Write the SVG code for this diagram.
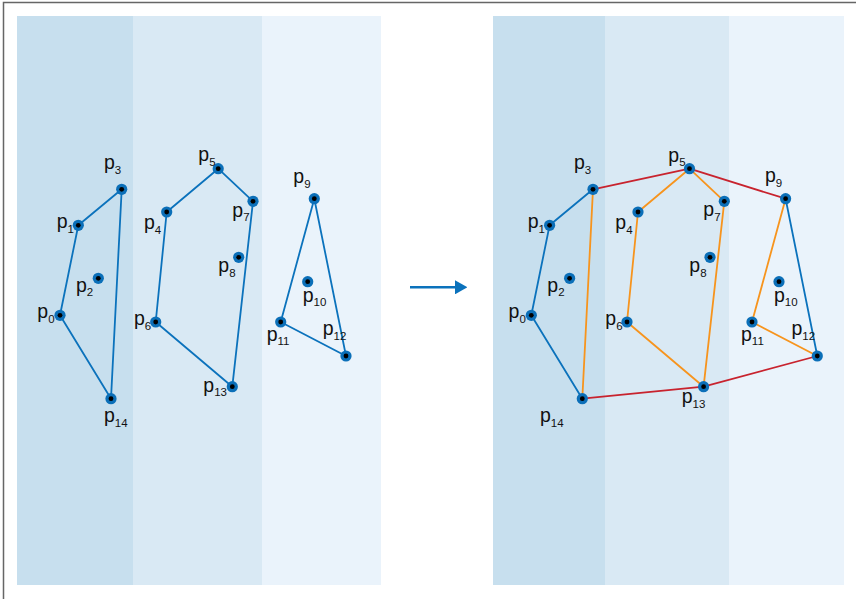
<svg xmlns="http://www.w3.org/2000/svg" width="856" height="599" viewBox="0 0 856 599">
<style>
.b1{fill:#c7dfee}.b2{fill:#d9e9f4}.b3{fill:#eaf3fb}
.e{fill:none;stroke-width:1.8;stroke-linecap:round;stroke-linejoin:round}
.blue{stroke:#0b72bc}.red{stroke:#c8232e}.org{stroke:#f7941d}
.pt{fill:#0b6fb8}.dot{fill:#000}
text{font-family:"Liberation Sans Narrow","Liberation Sans",Arial,sans-serif;font-size:19.5px;fill:#111}
.sub{font-size:11.5px}
</style>
<defs>
<g id="m"><circle r="5.6" class="pt"/><circle r="2.4" class="dot"/></g>
<marker id="ah" markerWidth="12" markerHeight="14" refX="0" refY="7" orient="auto" markerUnits="userSpaceOnUse"><path d="M0,0 L12.5,7 L0,14 Z" fill="#0b72bc"/></marker>
</defs>
<rect width="856" height="599" fill="#fff"/>
<path d="M3.5,600 V2.5 H857" fill="none" stroke="#666" stroke-width="1.5"/>
<g id="bands-left">
<rect class="b1" x="17" y="16" width="116" height="569"/>
<rect class="b2" x="133" y="16" width="129" height="569"/>
<rect class="b3" x="262" y="16" width="119" height="569"/>
</g>
<g id="bands-right">
<rect class="b1" x="493" y="16" width="112" height="569"/>
<rect class="b2" x="605" y="16" width="124" height="569"/>
<rect class="b3" x="729" y="16" width="115" height="569"/>
</g>
<g id="connectors">
<polygon class="e blue" points="60,315.3 78.3,225.3 121.7,189.3 111,398.7"/>
<polygon class="e blue" points="166.7,212 218.2,168.7 253,201.3 232.3,386.7 155.7,322"/>
<polygon class="e blue" points="314.3,198.7 346,356 280.7,322"/>
<polyline class="e blue" points="593,189.3 549.6,225.3 531.3,315.3 582.3,398.7"/>
<line class="e blue" x1="785.6" y1="198.7" x2="817.3" y2="356"/>
<line class="e org" x1="593" y1="189.3" x2="582.3" y2="398.7"/>
<polyline class="e org" points="689.5,168.7 638,212 627,322 703.6,386.7 724.3,201.3 689.5,168.7"/>
<polyline class="e org" points="785.6,198.7 752,322 817.3,356"/>
<polyline class="e red" points="593,189.3 689.5,168.7 785.6,198.7"/>
<polyline class="e red" points="582.3,398.7 703.6,386.7 817.3,356"/>
<line x1="410" y1="287.3" x2="455" y2="287.3" stroke="#0b72bc" stroke-width="2.6" marker-end="url(#ah)"/>
</g>
<g id="left-nodes">
<g id="L0"><use href="#m" x="60" y="315.3"/><text x="37.3" y="318.3">p<tspan class="sub" dy="4.6">0</tspan></text></g>
<g id="L1"><use href="#m" x="78.3" y="225.3"/><text x="56.7" y="228">p<tspan class="sub" dy="4.6">1</tspan></text></g>
<g id="L2"><use href="#m" x="98.3" y="278.3"/><text x="76" y="291.7">p<tspan class="sub" dy="4.6">2</tspan></text></g>
<g id="L3"><use href="#m" x="121.7" y="189.3"/><text x="104" y="169">p<tspan class="sub" dy="4.6">3</tspan></text></g>
<g id="L4"><use href="#m" x="166.7" y="212"/><text x="144" y="229.3">p<tspan class="sub" dy="4.6">4</tspan></text></g>
<g id="L5"><use href="#m" x="218.2" y="168.7"/><text x="198.3" y="161">p<tspan class="sub" dy="4.6">5</tspan></text></g>
<g id="L6"><use href="#m" x="155.7" y="322"/><text x="134" y="325">p<tspan class="sub" dy="4.6">6</tspan></text></g>
<g id="L7"><use href="#m" x="253" y="201.3"/><text x="232.3" y="216.7">p<tspan class="sub" dy="4.6">7</tspan></text></g>
<g id="L8"><use href="#m" x="238.7" y="257.3"/><text x="218.3" y="272">p<tspan class="sub" dy="4.6">8</tspan></text></g>
<g id="L9"><use href="#m" x="314.3" y="198.7"/><text x="293.3" y="183.3">p<tspan class="sub" dy="4.6">9</tspan></text></g>
<g id="L10"><use href="#m" x="307.7" y="281.7"/><text x="302.7" y="301.7">p<tspan class="sub" dy="4.6">10</tspan></text></g>
<g id="L11"><use href="#m" x="280.7" y="322"/><text x="266.7" y="340.5">p<tspan class="sub" dy="4.6">11</tspan></text></g>
<g id="L12"><use href="#m" x="346" y="356"/><text x="322.7" y="335">p<tspan class="sub" dy="4.6">12</tspan></text></g>
<g id="L13"><use href="#m" x="232.3" y="386.7"/><text x="203.3" y="391.5">p<tspan class="sub" dy="4.6">13</tspan></text></g>
<g id="L14"><use href="#m" x="111" y="398.7"/><text x="104" y="422">p<tspan class="sub" dy="4.6">14</tspan></text></g>
</g>
<g id="right-nodes">
<g id="R0"><use href="#m" x="531.3" y="315.3"/><text x="508.6" y="318.3">p<tspan class="sub" dy="4.6">0</tspan></text></g>
<g id="R1"><use href="#m" x="549.6" y="225.3"/><text x="527.7" y="228">p<tspan class="sub" dy="4.6">1</tspan></text></g>
<g id="R2"><use href="#m" x="569.6" y="278.3"/><text x="547.3" y="291.7">p<tspan class="sub" dy="4.6">2</tspan></text></g>
<g id="R3"><use href="#m" x="593" y="189.3"/><text x="574" y="169">p<tspan class="sub" dy="4.6">3</tspan></text></g>
<g id="R4"><use href="#m" x="638" y="212"/><text x="615.3" y="229.3">p<tspan class="sub" dy="4.6">4</tspan></text></g>
<g id="R5"><use href="#m" x="689.5" y="168.7"/><text x="668.3" y="161.5">p<tspan class="sub" dy="4.6">5</tspan></text></g>
<g id="R6"><use href="#m" x="627" y="322"/><text x="605.3" y="325">p<tspan class="sub" dy="4.6">6</tspan></text></g>
<g id="R7"><use href="#m" x="724.3" y="201.3"/><text x="703.3" y="216">p<tspan class="sub" dy="4.6">7</tspan></text></g>
<g id="R8"><use href="#m" x="710" y="257.3"/><text x="689.3" y="272">p<tspan class="sub" dy="4.6">8</tspan></text></g>
<g id="R9"><use href="#m" x="785.6" y="198.7"/><text x="765" y="182">p<tspan class="sub" dy="4.6">9</tspan></text></g>
<g id="R10"><use href="#m" x="779" y="281.7"/><text x="774" y="301.7">p<tspan class="sub" dy="4.6">10</tspan></text></g>
<g id="R11"><use href="#m" x="752" y="322"/><text x="741" y="340.5">p<tspan class="sub" dy="4.6">11</tspan></text></g>
<g id="R12"><use href="#m" x="817.3" y="356"/><text x="791.5" y="335">p<tspan class="sub" dy="4.6">12</tspan></text></g>
<g id="R13"><use href="#m" x="703.6" y="386.7"/><text x="681.7" y="403">p<tspan class="sub" dy="4.6">13</tspan></text></g>
<g id="R14"><use href="#m" x="582.3" y="398.7"/><text x="540" y="422">p<tspan class="sub" dy="4.6">14</tspan></text></g>
</g>
</svg>
